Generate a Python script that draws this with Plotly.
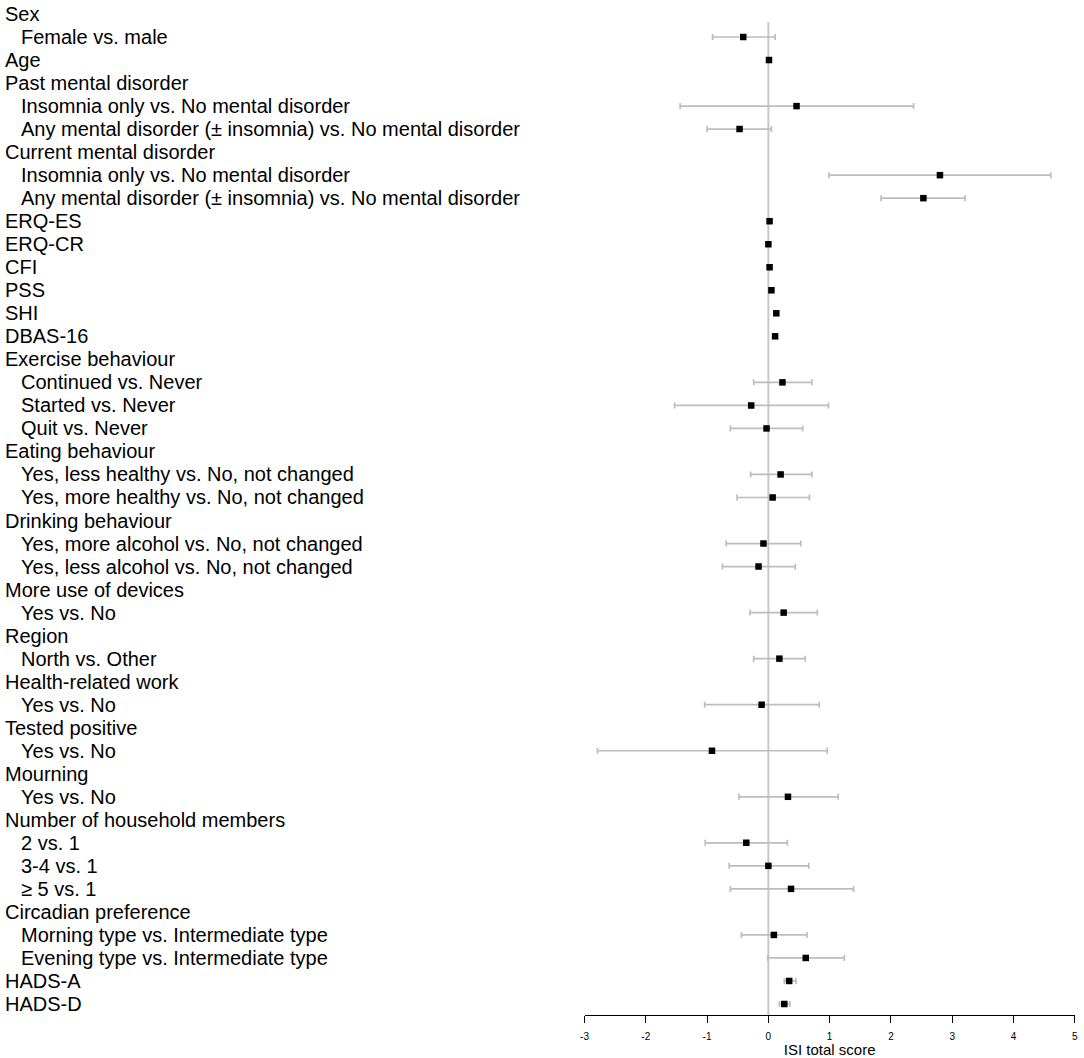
import plotly.graph_objects as go

labels = [
    "Sex", "Female vs. male", "Age", "Past mental disorder",
    "Insomnia only vs. No mental disorder",
    "Any mental disorder (± insomnia) vs. No mental disorder",
    "Current mental disorder",
    "Insomnia only vs. No mental disorder",
    "Any mental disorder (± insomnia) vs. No mental disorder",
    "ERQ-ES", "ERQ-CR", "CFI", "PSS", "SHI", "DBAS-16",
    "Exercise behaviour", "Continued vs. Never", "Started vs. Never", "Quit vs. Never",
    "Eating behaviour", "Yes, less healthy vs. No, not changed", "Yes, more healthy vs. No, not changed",
    "Drinking behaviour", "Yes, more alcohol vs. No, not changed", "Yes, less alcohol vs. No, not changed",
    "More use of devices", "Yes vs. No",
    "Region", "North vs. Other",
    "Health-related work", "Yes vs. No",
    "Tested positive", "Yes vs. No",
    "Mourning", "Yes vs. No",
    "Number of household members", "2 vs. 1", "3-4 vs. 1", "≥ 5 vs. 1",
    "Circadian preference", "Morning type vs. Intermediate type", "Evening type vs. Intermediate type",
    "HADS-A", "HADS-D",
]
indented = [
    0, 1, 0, 0, 1, 1, 0, 1, 1,
    0, 0, 0, 0, 0, 0,
    0, 1, 1, 1,
    0, 1, 1,
    0, 1, 1,
    0, 1,
    0, 1,
    0, 1,
    0, 1,
    0, 1,
    0, 1, 1, 1,
    0, 1, 1,
    0, 0,
]
estimate = [
    None, -0.41, 0.01, None, 0.46, -0.47, None, 2.80, 2.53,
    0.02, 0.00, 0.02, 0.05, 0.13, 0.11,
    None, 0.23, -0.28, -0.03,
    None, 0.20, 0.07,
    None, -0.08, -0.16,
    None, 0.25,
    None, 0.18,
    None, -0.11,
    None, -0.92,
    None, 0.32,
    None, -0.36, 0.00, 0.37,
    None, 0.09, 0.61,
    0.34, 0.26,
]
lower = [
    None, -0.91, 0.00, None, -1.44, -1.00, None, 0.99, 1.84,
    0.01, -0.01, 0.01, 0.04, 0.12, 0.10,
    None, -0.24, -1.53, -0.62,
    None, -0.29, -0.51,
    None, -0.69, -0.75,
    None, -0.30,
    None, -0.24,
    None, -1.04,
    None, -2.79,
    None, -0.48,
    None, -1.03, -0.64, -0.62,
    None, -0.44, -0.01,
    0.26, 0.18,
]
upper = [
    None, 0.11, 0.02, None, 2.37, 0.05, None, 4.61, 3.21,
    0.03, 0.01, 0.03, 0.06, 0.14, 0.12,
    None, 0.71, 0.98, 0.56,
    None, 0.71, 0.67,
    None, 0.53, 0.44,
    None, 0.80,
    None, 0.60,
    None, 0.83,
    None, 0.96,
    None, 1.14,
    None, 0.31, 0.66, 1.39,
    None, 0.63, 1.24,
    0.45, 0.35,
]
x_ticks = [-3, -2, -1, 0, 1, 2, 3, 4, 5]
x_title = "ISI total score"

rows = list(range(1, len(labels) + 1))
xs, ys, ep, em = [], [], [], []
for r, e, lo, hi in zip(rows, estimate, lower, upper):
    if e is None:
        continue
    xs.append(e)
    ys.append(r)
    ep.append(hi - e)
    em.append(e - lo)

FONT = "Liberation Sans, Arial, Helvetica, sans-serif"
W, H = 1084, 1058
fig = go.Figure()
fig.add_trace(go.Scatter(
    x=xs, y=ys, mode="markers",
    marker=dict(symbol="square", size=6.5, color="black"),
    error_x=dict(type="data", symmetric=False, array=ep, arrayminus=em,
                 color="#bdbdbd", thickness=1.7, width=3),
    showlegend=False, hoverinfo="skip",
))

fig.add_shape(type="line", xref="x", yref="y", x0=0, x1=0, y0=1.35, y1=44.48,
              line=dict(color="#c8c8c8", width=2), layer="below")

for r, lab, ind in zip(rows, labels, indented):
    fig.add_annotation(
        xref="paper", yref="y", x=(15.5 if ind else -1.5) / W, y=r,
        text=lab, showarrow=False, xanchor="left", yanchor="middle",
        font=dict(family=FONT, size=20, color="black"),
    )

fig.update_layout(
    width=W, height=H,
    margin=dict(l=0, r=0, t=0, b=43),
    plot_bgcolor="white", paper_bgcolor="white",
    xaxis=dict(
        domain=[584.3 / W, 1077.7 / W], range=[-3, 5],
        tickvals=x_ticks, ticktext=[str(t) for t in x_ticks],
        ticks="outside", ticklen=7, tickwidth=1.3, tickcolor="black",
        ticklabelstandoff=5,
        showline=True, linecolor="black", linewidth=1.3,
        showgrid=False, zeroline=False,
        tickfont=dict(family=FONT, size=10, color="black"),
        title=dict(text=x_title, standoff=3,
                   font=dict(family=FONT, size=15, color="black")),
    ),
    yaxis=dict(
        range=[44.478, 0.392], showgrid=False, zeroline=False,
        showticklabels=False, showline=False, ticks="",
    ),
)

fig.write_html(
    "out.html",
    config={"displayModeBar": False},
    post_script="document.body.style.margin='0';document.body.style.overflow='hidden';",
)
